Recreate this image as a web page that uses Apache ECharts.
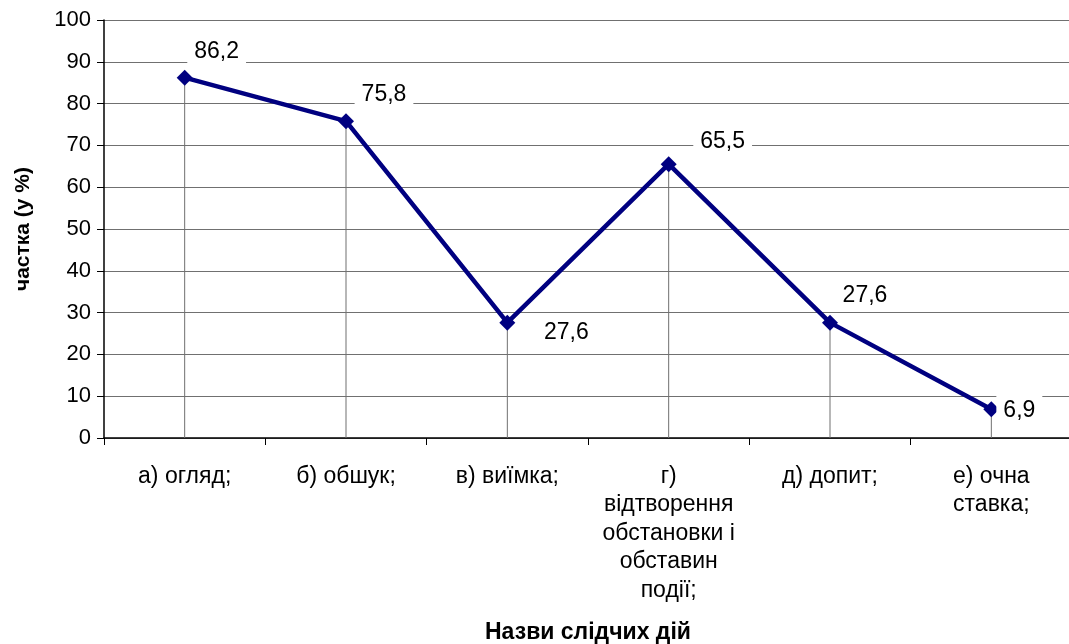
<!DOCTYPE html>
<html><head><meta charset="utf-8">
<script src="https://cdn.jsdelivr.net/npm/echarts@6/dist/echarts.min.js"></script>
<style>html,body{margin:0;padding:0;background:#fff}#c{width:1069px;height:644px}</style>
</head><body><div id="c"></div>
<script>
const categories = ["а) огляд;", "б) обшук;", "в) виїмка;", "г)\nвідтворення\nобстановки і\nобставин\nподії;", "д) допит;", "е) очна\nставка;"];
const values = [86.2, 75.8, 27.6, 65.5, 27.6, 6.9];
const yTicks = [0, 10, 20, 30, 40, 50, 60, 70, 80, 90, 100];
const labelOffsets = [[32,-26],[38,-26],[59,10],[54,-23],[35,-27],[28,1]];

const FONT = '"Liberation Sans", Arial, sans-serif';
const chart = echarts.init(document.getElementById('c'), null, {renderer:'canvas'});
chart.setOption({
  animation:false,
  backgroundColor:'#fff',
  grid:{left:104, top:20, width:968, height:418, containLabel:false, outerBoundsMode:'none'},
  xAxis:{
    type:'category', data:categories, boundaryGap:true,
    name:'Назви слідчих дій', nameLocation:'middle', nameGap:183,
    nameTextStyle:{fontFamily:FONT, fontWeight:'bold', fontSize:23, color:'#000'},
    axisLine:{lineStyle:{color:'#000', width:1.5}},
    axisTick:{show:true, length:7, lineStyle:{color:'#000'}},
    axisLabel:{interval:0, margin:24, fontFamily:FONT, fontSize:23, color:'#000', lineHeight:28.5}
  },
  yAxis:{
    type:'value', min:yTicks[0], max:yTicks[yTicks.length-1], interval:10,
    name:'частка (у %)', nameLocation:'middle', nameGap:70,
    nameTextStyle:{fontFamily:FONT, fontWeight:'bold', fontSize:21, color:'#000'},
    axisLine:{show:true, lineStyle:{color:'#000', width:1.5}},
    axisTick:{show:true, length:7, lineStyle:{color:'#000'}},
    axisLabel:{margin:13, fontFamily:FONT, fontSize:22, color:'#000'},
    splitLine:{show:true, lineStyle:{color:'#707070', width:1}}
  },
  series:[
    {
      type:'bar', data:values, barWidth:1, barGap:'-100%',
      itemStyle:{color:'#707070'}, silent:true, z:1
    },
    {
      type:'line', data:values.map((v,i)=>({value:v, label:{offset:labelOffsets[i]}})),
      z:3,
      lineStyle:{color:'#000080', width:4.5},
      itemStyle:{color:'#000080'},
      symbol:'diamond', symbolSize:16,
      label:{
        show:true, position:'inside', fontFamily:FONT, fontSize:23, color:'#000',
        backgroundColor:'#fff', padding:[3,7,4,7],
        formatter:p=>String(p.value).replace('.', ',')
      }
    }
  ]
});
</script></body></html>
